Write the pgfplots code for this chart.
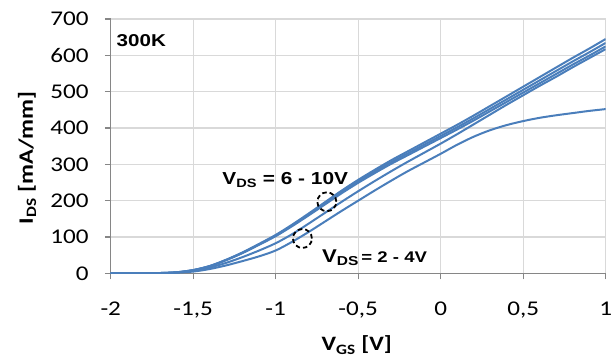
\documentclass[border=0pt]{standalone}
\usepackage{fontspec}
\setmainfont{Carlito}[FakeStretch=1.2]
\newfontfamily\arialf{Liberation Sans}[FakeStretch=1.2]
\usepackage{pgfplots}
\usepackage{pgfplotstable}
\pgfplotsset{compat=1.18}
\definecolor{lineblue}{HTML}{4A7EBB}
\definecolor{gridgray}{HTML}{D9D9D9}
\definecolor{axgray}{HTML}{868686}

\pgfplotstableread{
vgs    v2     v4     v6     v8     v10
-2.0   0      0      0      0      0
-1.9   0      0      0      0      0
-1.8   0.1    0.2    0.3    0.3    0.3
-1.7   0.5    0.8    1.0    1.0    1.0
-1.6   2      2.5    3.0    3.0    3.1
-1.5   5      7      8.9    9      9.2
-1.4   12     16     19.7   20     20.3
-1.3   22     29     36.4   37     37.6
-1.2   34     45     56.1   57     58.0
-1.1   47     63     78.8   80     81.4
-1.0   63     83     102.4  104    105.8
-0.9   87     108    130.0  132    134.2
-0.8   114    137    159.6  162    164.8
-0.7   143    167    190.1  193    196.3
-0.6   172    197    220.6  224    227.8
-0.5   200    226    249.2  253    257.3
-0.4   228    254    275.8  280    284.8
-0.3   255    281    301.4  306    311.2
-0.2   281    307    325.0  330    335.6
-0.1   305    332    348.7  354    360.0
0.0    329    357    372.3  378    384.4
0.1    354    383    396.0  402    408.8
0.2    376    410    420.6  427    434.3
0.3    394    437    446.2  453    460.7
0.4    408    464    471.8  479    487.1
0.5    419    490    497.4  505    513.6
0.6    428    516    523.0  531    540.0
0.7    435    541    548.6  557    566.5
0.8    441    567    574.3  583    592.9
0.9    447    592    598.9  608    618.3
1.0    452    617    624.5  634    644.8
}\datatable

\begin{document}
\begin{tikzpicture}
\begin{axis}[
  scale only axis,
  width=496bp, height=255bp,
  xmin=-2, xmax=1, ymin=0, ymax=700,
  xtick={-2,-1.5,-1,-0.5,0,0.5,1},
  ytick={0,100,200,300,400,500,600,700},
  axis x line*=bottom, axis y line*=left,
  axis line style={axgray, line width=1.3bp, -},
  grid=major,
  major grid style={gridgray, line width=1.1bp},
  tick style={axgray, line width=1.1bp},
  tick align=outside,
  major tick length=6bp,
  xticklabel style={/pgf/number format/use comma, /pgf/number format/assume math mode=true},
  yticklabel style={/pgf/number format/assume math mode=true},
  ticklabel style={font=\fontsize{21bp}{24bp}\selectfont, text=black},
  xticklabel style={anchor=north, inner sep=0pt, yshift=-22bp},
  yticklabel style={anchor=east, inner sep=0pt, xshift=-16bp},
  xlabel={\bfseries V\textsubscript{GS} [V]},
  ylabel={\bfseries I\textsubscript{DS} [mA/mm]},
  label style={font=\fontsize{20.5bp}{24bp}\selectfont},
  xlabel style={at={(axis description cs:0.497,-0.305)}, anchor=base, inner sep=0pt},
  ylabel style={at={(axis description cs:-0.169,0.455)}, anchor=center, inner sep=0pt},
]
\coordinate (O) at (rel axis cs:0,0);
\addplot[lineblue, line width=2bp, smooth] table[x=vgs, y=v2] {\datatable};
\addplot[lineblue, line width=2bp, smooth] table[x=vgs, y=v4] {\datatable};
\addplot[lineblue, line width=2bp, smooth] table[x=vgs, y=v6] {\datatable};
\addplot[lineblue, line width=2bp, smooth] table[x=vgs, y=v8] {\datatable};
\addplot[lineblue, line width=2bp, smooth] table[x=vgs, y=v10] {\datatable};
\addplot[only marks, mark=o, mark size=9.5bp,
  mark options={draw=black, line width=1.8bp, dash pattern=on 4.5bp off 3bp, fill=none}]
  coordinates {(-0.69,197) (-0.838,96)};
\node[anchor=base west, inner sep=0pt, font=\arialf\bfseries\fontsize{17.2bp}{20bp}\selectfont]
  at (axis cs:-1.965,624) {300K};
\node[anchor=base west, inner sep=0pt, font=\arialf\bfseries\fontsize{17.4bp}{20bp}\selectfont]
  at (axis cs:-1.324,244) {V\textsubscript{DS} = 6 - 10V};
\node[anchor=base west, inner sep=0pt, font=\arialf\bfseries\fontsize{18.5bp}{20bp}\selectfont]
  at (axis cs:-0.72,29) {V\textsubscript{DS}{\fontsize{15.5bp}{18bp}\selectfont\,= 2 - 4V}};
\end{axis}
\path (O) ++(-111bp,-84bp) rectangle ++(612bp,358bp);
\end{tikzpicture}
\end{document}
